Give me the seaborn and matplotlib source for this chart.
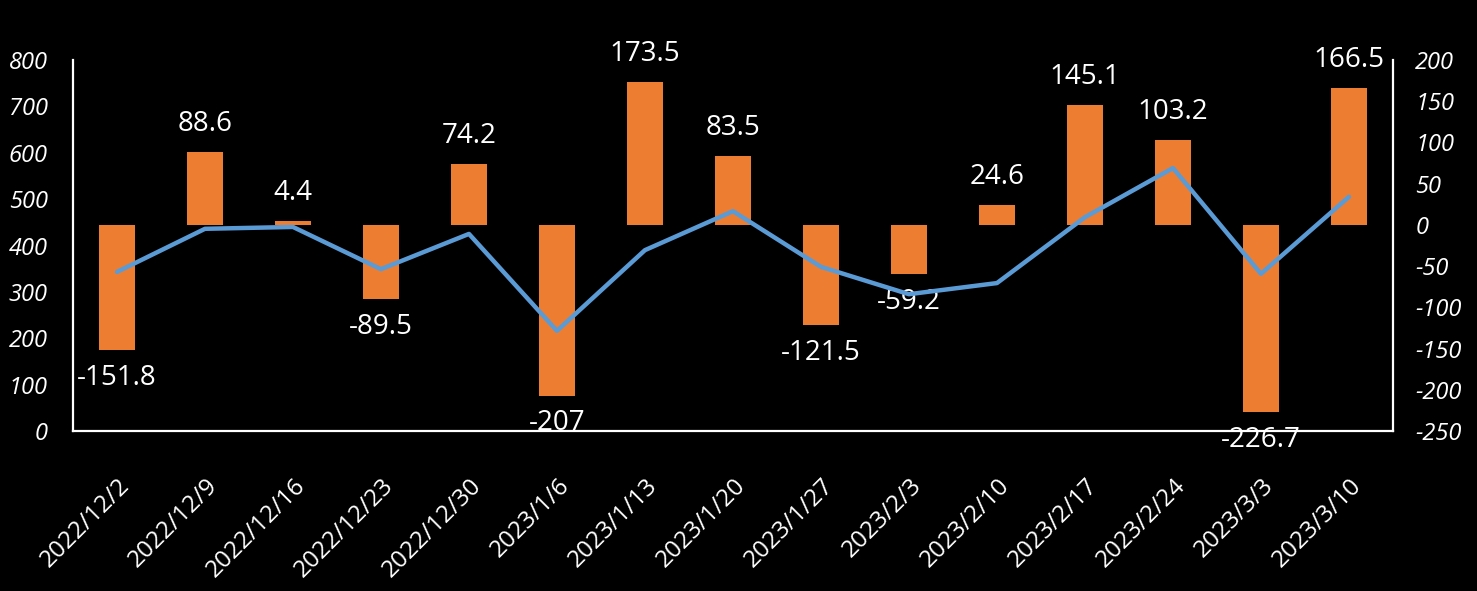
import matplotlib
matplotlib.use("Agg")
import matplotlib.pyplot as plt
import matplotlib.transforms as mtrans
import seaborn as sns
import numpy as np

# weekly dates, weekly change (bars, right axis), level (line, left axis)
dates = ["2022/12/2", "2022/12/9", "2022/12/16", "2022/12/23", "2022/12/30",
         "2023/1/6", "2023/1/13", "2023/1/20", "2023/1/27", "2023/2/3",
         "2023/2/10", "2023/2/17", "2023/2/24", "2023/3/3", "2023/3/10"]
change = [-151.8, 88.6, 4.4, -89.5, 74.2, -207, 173.5, 83.5, -121.5, -59.2,
          24.6, 145.1, 103.2, -226.7, 166.5]
level = [343, 436, 440, 349, 425, 216, 390, 474, 354, 295,
         319, 461, 567, 339, 505]

sns.set_style("dark")
plt.rcParams["font.family"] = ["Open Sans", "DejaVu Sans"]
plt.rcParams["axes.unicode_minus"] = False

fig = plt.figure(figsize=(14.77, 5.91), dpi=100, facecolor="black")
ax = fig.add_axes([0.0494, 0.2707, 0.8937, 0.6278])
ax.set_facecolor("black")
ax2 = ax.twinx()

# bars on the right axis
sns.barplot(x=dates, y=change, ax=ax, color="#ED7D31", saturation=1, width=0.4,
            linewidth=0, edgecolor="none")
ax.set_xlim(-0.5, len(dates) - 0.5)
ax.set_ylim(-250, 200)
ax.set_yticks(np.arange(-250, 201, 50))
ax.yaxis.tick_right()
ax.tick_params(axis="y", length=0, pad=16, colors="white", labelsize=17)
for lab in ax.get_yticklabels():
    lab.set_style("italic")
ax.tick_params(axis="x", length=0, pad=4, colors="white", labelsize=17.5)
for lab in ax.get_xticklabels():
    lab.set_rotation(45)
    lab.set_ha("right")
    lab.set_va("center")
    lab.set_rotation_mode("anchor")
    lab.set_transform(lab.get_transform() + mtrans.ScaledTranslation(0.09, -0.46, fig.dpi_scale_trans))

for i, v in enumerate(change):
    ax.annotate(f"{v:g}", (i, v), xytext=(0, 10 if v > 0 else -10),
                textcoords="offset points", ha="center",
                va="bottom" if v > 0 else "top", color="white", fontsize=20)

for side in ["left", "right", "bottom"]:
    ax.spines[side].set_color("white")
    ax.spines[side].set_linewidth(1.6)
    ax.spines[side].set_visible(True)
ax.spines["top"].set_visible(False)
ax.grid(False)
ax.set_xlabel("")
ax.set_ylabel("")

# line on the left axis
sns.lineplot(x=np.arange(len(dates)), y=level, ax=ax2, color="#5B9BD5", linewidth=3.2)
ax2.set_ylim(0, 800)
ax2.set_yticks(np.arange(0, 801, 100))
ax2.yaxis.tick_left()
ax2.tick_params(axis="y", length=0, pad=18, colors="white", labelsize=17)
for lab in ax2.get_yticklabels():
    lab.set_style("italic")
for s in ax2.spines.values():
    s.set_visible(False)
ax2.grid(False)
ax2.set_ylabel("")

fig.savefig("out.png", dpi=100, facecolor="black")
